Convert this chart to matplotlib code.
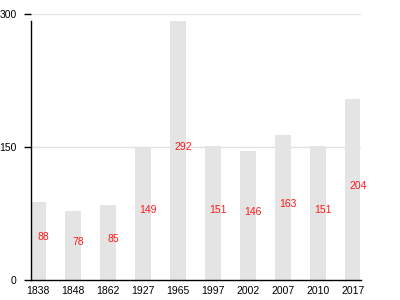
import matplotlib
matplotlib.use("Agg")
import matplotlib.pyplot as plt

years = ["1838", "1848", "1862", "1927", "1965", "1997", "2002", "2007", "2010", "2017"]
population = [88, 78, 85, 149, 292, 151, 146, 163, 151, 204]

plt.rcParams["font.family"] = ["Liberation Sans", "DejaVu Sans"]

fig = plt.figure(figsize=(4, 3), dpi=100)
ax = fig.add_axes([30.5 / 400, 20 / 300, 330 / 400, 266 / 300])

x = range(len(years))
ax.bar(x, population, width=0.44, color="#e4e4e4", zorder=2)

for xi, v in zip(x, population):
    ax.text(xi + 0.14, v / 2 + 4, str(v), color="#ff1a1a", fontsize=7.5,
            ha="center", va="center", zorder=3)

ax.set_xlim(-0.22, 9.22)
ax.set_ylim(0, 300)
ax.set_yticks([0, 150, 300])
ax.set_xticks(list(x))
ax.set_xticklabels(years)

# grid lines only at 150 and 300
for g in (150, 300):
    ax.axhline(g, color="#e2e2e2", linewidth=1, zorder=1)

for side in ("top", "right"):
    ax.spines[side].set_visible(False)
ax.spines["left"].set_bounds(0, 292)
ax.spines["left"].set_linewidth(1)
ax.spines["bottom"].set_linewidth(1)

ax.tick_params(axis="y", length=5, width=1, pad=5, labelsize=7.5)
ax.tick_params(axis="x", length=0, pad=4, labelsize=7.5)

fig.savefig("out.png", dpi=100)
